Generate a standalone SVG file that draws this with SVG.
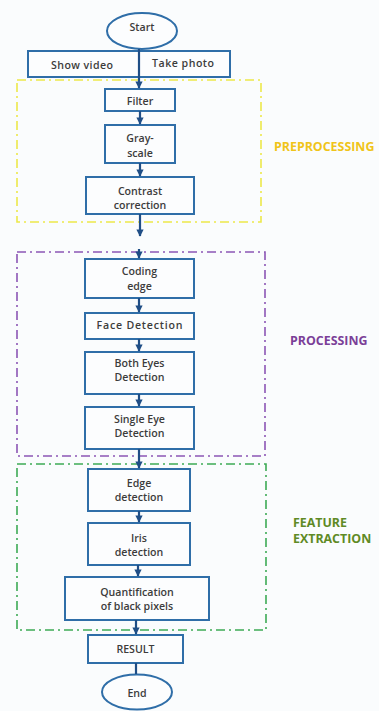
<svg xmlns="http://www.w3.org/2000/svg" width="379" height="711" viewBox="0 0 379 711">
<style>
.node{fill:#fcfdfe;stroke:#2f6ea8;stroke-width:2}
.t{font-family:"Open Sans","Liberation Sans",sans-serif;font-weight:600;font-size:10.6px;fill:#3c3c3c;text-anchor:middle}
.c{stroke:#1f4e86;stroke-width:2.2;fill:none}
.frame{fill:none;stroke-width:1.6;stroke-dasharray:9 4 2 4}
.lab{font-family:"Open Sans","Liberation Sans",sans-serif;font-weight:700;font-size:12.4px}
</style>
<defs>
<marker id="ah" viewBox="0 0 10 10" refX="9" refY="5" markerWidth="3.3" markerHeight="3.3" orient="auto" markerUnits="strokeWidth">
<path d="M0,0 L10,5 L0,10 z" fill="#1f4e86"/>
</marker>
</defs>
<rect width="379" height="711" fill="#fafcfd"/>
<g id="frames">
<rect x="17" y="80" width="244" height="142" class="frame" stroke="#ede84a"/>
<rect x="17" y="252" width="248" height="204" class="frame" stroke="#8c55b5"/>
<rect x="17" y="464" width="249" height="166" class="frame" stroke="#3eaa55"/>
</g>
<g id="start"><ellipse cx="142" cy="31" rx="35" ry="18" class="node" stroke="#1f4e86" stroke-width="2.2"/><text x="142" y="31" class="t">Start</text></g>
<g id="input"><rect x="28" y="51" width="202" height="26" class="node"/><text x="82" y="69" class="t" textLength="62">Show video</text><text x="183" y="67" class="t" textLength="62">Take  photo</text></g>
<g id="filter"><rect x="105" y="89" width="70" height="22" class="node"/><text x="140" y="105" class="t">Filter</text></g>
<g id="grayscale"><rect x="105" y="125" width="70" height="38" class="node"/><text x="140" y="142" class="t">Gray-</text><text x="140" y="156.5" class="t">scale</text></g>
<g id="contrast"><rect x="86" y="177" width="108" height="37" class="node"/><text x="140" y="194.5" class="t">Contrast</text><text x="140" y="209" class="t">correction</text></g>
<g id="coding"><rect x="85" y="259" width="109" height="39" class="node"/><text x="139.5" y="275" class="t">Coding</text><text x="139.5" y="289.5" class="t">edge</text></g>
<g id="face"><rect x="85" y="313" width="109" height="26" class="node"/><text x="139.5" y="329" class="t" textLength="86">Face Detection</text></g>
<g id="botheyes"><rect x="85" y="352" width="109" height="42" class="node"/><text x="139.5" y="366.5" class="t">Both Eyes</text><text x="139.5" y="381" class="t">Detection</text></g>
<g id="singleeye"><rect x="85" y="407" width="109" height="42" class="node"/><text x="139.5" y="422.5" class="t">Single Eye</text><text x="139.5" y="437" class="t">Detection</text></g>
<g id="edge"><rect x="88" y="469" width="102" height="42" class="node"/><text x="139" y="486.5" class="t">Edge</text><text x="139" y="501" class="t">detection</text></g>
<g id="iris"><rect x="88" y="523" width="102" height="42" class="node"/><text x="139" y="541.5" class="t">Iris</text><text x="139" y="556" class="t">detection</text></g>
<g id="quant"><rect x="65" y="577" width="144" height="43" class="node"/><text x="137" y="595.5" class="t">Quantification</text><text x="137" y="610" class="t">of black pixels</text></g>
<g id="result"><rect x="88" y="635" width="95" height="28" class="node"/><text x="135.5" y="653" class="t">RESULT</text></g>
<g id="end"><ellipse cx="137" cy="692" rx="35" ry="17.5" class="node" stroke="#1f4e86" stroke-width="2.2"/><text x="137" y="697" class="t">End</text></g>
<g id="labels">
<text x="274" y="151" class="lab" fill="#f0c419">PREPROCESSING</text>
<text x="290" y="345" class="lab" fill="#7b3f98">PROCESSING</text>
<text x="293" y="527" class="lab" fill="#5f8a25">FEATURE</text>
<text x="293" y="543" class="lab" fill="#5f8a25">EXTRACTION</text>
</g>
<g id="connectors">
<path d="M139,49 V88" class="c" marker-end="url(#ah)"/>
<path d="M140,111 V124" class="c" marker-end="url(#ah)"/>
<path d="M140,163 V176" class="c" marker-end="url(#ah)"/>
<path d="M140,214 V236" class="c" marker-end="url(#ah)"/>
<path d="M139,249 V258" class="c" marker-end="url(#ah)"/>
<path d="M139,298 V312" class="c" marker-end="url(#ah)"/>
<path d="M139,339 V351" class="c" marker-end="url(#ah)"/>
<path d="M139,394 V406" class="c" marker-end="url(#ah)"/>
<path d="M139,449 V468" class="c" marker-end="url(#ah)"/>
<path d="M139,511 V522" class="c" marker-end="url(#ah)"/>
<path d="M138,565 V576" class="c" marker-end="url(#ah)"/>
<path d="M136,620 V634" class="c" marker-end="url(#ah)"/>
<path d="M136,663 V674" class="c"/>
</g>
</svg>
